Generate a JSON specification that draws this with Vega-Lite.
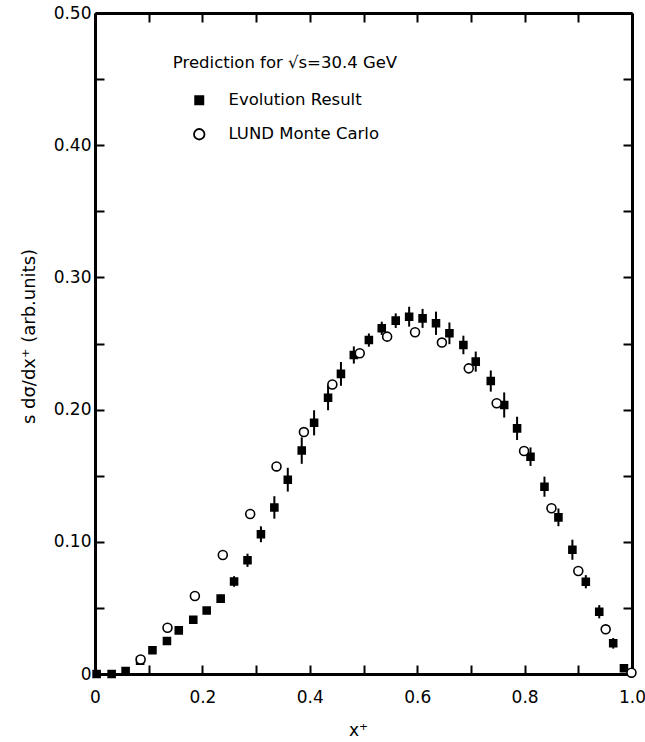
{
  "$schema": "https://vega.github.io/schema/vega-lite/v6.json",
  "width": 537,
  "height": 661,
  "autosize": {"type": "none"},
  "padding": {"left": 95, "top": 13, "right": 13, "bottom": 68},
  "background": "white",
  "config": {
    "view": {"stroke": null},
    "font": "DejaVu Sans",
    "axis": {
      "grid": false,
      "domainColor": "black",
      "domainWidth": 3,
      "tickColor": "black",
      "tickWidth": 2,
      "tickSize": -9,
      "labelColor": "black",
      "labelFont": "DejaVu Sans",
      "labelFontSize": 17,
      "labelFlush": false,
      "labelOverlap": false,
      "titleColor": "black",
      "titleFont": "DejaVu Sans",
      "titleFontWeight": "normal",
      "titleFontSize": 17
    },
    "legend": {
      "labelFont": "DejaVu Sans",
      "labelFontSize": 16.5,
      "labelColor": "black",
      "symbolSize": 110,
      "symbolStrokeWidth": 1.8
    }
  },
  "data": {
    "values": [
      {"series": "Evolution Result", "x": 0.003, "y": 0.0, "lo": 0.0, "hi": 0.0},
      {"series": "Evolution Result", "x": 0.031, "y": 0.0, "lo": 0.0, "hi": 0.0},
      {"series": "Evolution Result", "x": 0.057, "y": 0.0023, "lo": 0.0023, "hi": 0.0023},
      {"series": "Evolution Result", "x": 0.084, "y": 0.010, "lo": 0.010, "hi": 0.010},
      {"series": "Evolution Result", "x": 0.107, "y": 0.018, "lo": 0.018, "hi": 0.018},
      {"series": "Evolution Result", "x": 0.134, "y": 0.025, "lo": 0.024, "hi": 0.026},
      {"series": "Evolution Result", "x": 0.156, "y": 0.033, "lo": 0.032, "hi": 0.034},
      {"series": "Evolution Result", "x": 0.183, "y": 0.041, "lo": 0.039, "hi": 0.043},
      {"series": "Evolution Result", "x": 0.208, "y": 0.048, "lo": 0.046, "hi": 0.050},
      {"series": "Evolution Result", "x": 0.234, "y": 0.057, "lo": 0.054, "hi": 0.060},
      {"series": "Evolution Result", "x": 0.259, "y": 0.070, "lo": 0.066, "hi": 0.074},
      {"series": "Evolution Result", "x": 0.284, "y": 0.086, "lo": 0.081, "hi": 0.091},
      {"series": "Evolution Result", "x": 0.309, "y": 0.1057, "lo": 0.0997, "hi": 0.1117},
      {"series": "Evolution Result", "x": 0.334, "y": 0.126, "lo": 0.1175, "hi": 0.1345},
      {"series": "Evolution Result", "x": 0.359, "y": 0.147, "lo": 0.138, "hi": 0.156},
      {"series": "Evolution Result", "x": 0.385, "y": 0.169, "lo": 0.159, "hi": 0.179},
      {"series": "Evolution Result", "x": 0.408, "y": 0.190, "lo": 0.1805, "hi": 0.1995},
      {"series": "Evolution Result", "x": 0.434, "y": 0.209, "lo": 0.1995, "hi": 0.2185},
      {"series": "Evolution Result", "x": 0.458, "y": 0.227, "lo": 0.218, "hi": 0.236},
      {"series": "Evolution Result", "x": 0.482, "y": 0.2413, "lo": 0.2348, "hi": 0.2478},
      {"series": "Evolution Result", "x": 0.510, "y": 0.2526, "lo": 0.2476, "hi": 0.2576},
      {"series": "Evolution Result", "x": 0.534, "y": 0.2615, "lo": 0.2565, "hi": 0.2665},
      {"series": "Evolution Result", "x": 0.560, "y": 0.2673, "lo": 0.2618, "hi": 0.2728},
      {"series": "Evolution Result", "x": 0.585, "y": 0.2703, "lo": 0.2628, "hi": 0.2778},
      {"series": "Evolution Result", "x": 0.610, "y": 0.2690, "lo": 0.2618, "hi": 0.2762},
      {"series": "Evolution Result", "x": 0.635, "y": 0.2653, "lo": 0.2565, "hi": 0.2741},
      {"series": "Evolution Result", "x": 0.660, "y": 0.2577, "lo": 0.2495, "hi": 0.2659},
      {"series": "Evolution Result", "x": 0.686, "y": 0.2489, "lo": 0.2419, "hi": 0.2559},
      {"series": "Evolution Result", "x": 0.709, "y": 0.2363, "lo": 0.2287, "hi": 0.2439},
      {"series": "Evolution Result", "x": 0.737, "y": 0.2216, "lo": 0.2136, "hi": 0.2296},
      {"series": "Evolution Result", "x": 0.762, "y": 0.2035, "lo": 0.194, "hi": 0.213},
      {"series": "Evolution Result", "x": 0.786, "y": 0.1858, "lo": 0.177, "hi": 0.1946},
      {"series": "Evolution Result", "x": 0.811, "y": 0.1644, "lo": 0.1574, "hi": 0.1714},
      {"series": "Evolution Result", "x": 0.837, "y": 0.1417, "lo": 0.1341, "hi": 0.1493},
      {"series": "Evolution Result", "x": 0.863, "y": 0.1185, "lo": 0.1118, "hi": 0.1252},
      {"series": "Evolution Result", "x": 0.889, "y": 0.094, "lo": 0.0864, "hi": 0.1016},
      {"series": "Evolution Result", "x": 0.914, "y": 0.0698, "lo": 0.0648, "hi": 0.0748},
      {"series": "Evolution Result", "x": 0.939, "y": 0.0471, "lo": 0.0421, "hi": 0.0521},
      {"series": "Evolution Result", "x": 0.965, "y": 0.0232, "lo": 0.0192, "hi": 0.0272},
      {"series": "Evolution Result", "x": 0.985, "y": 0.0043, "lo": 0.0043, "hi": 0.0043},
      {"series": "LUND Monte Carlo", "x": 0.085, "y": 0.011},
      {"series": "LUND Monte Carlo", "x": 0.135, "y": 0.035},
      {"series": "LUND Monte Carlo", "x": 0.186, "y": 0.059},
      {"series": "LUND Monte Carlo", "x": 0.238, "y": 0.090},
      {"series": "LUND Monte Carlo", "x": 0.289, "y": 0.121},
      {"series": "LUND Monte Carlo", "x": 0.338, "y": 0.157},
      {"series": "LUND Monte Carlo", "x": 0.389, "y": 0.183},
      {"series": "LUND Monte Carlo", "x": 0.442, "y": 0.219},
      {"series": "LUND Monte Carlo", "x": 0.493, "y": 0.2426},
      {"series": "LUND Monte Carlo", "x": 0.544, "y": 0.2552},
      {"series": "LUND Monte Carlo", "x": 0.596, "y": 0.2585},
      {"series": "LUND Monte Carlo", "x": 0.646, "y": 0.2507},
      {"series": "LUND Monte Carlo", "x": 0.696, "y": 0.2312},
      {"series": "LUND Monte Carlo", "x": 0.748, "y": 0.2048},
      {"series": "LUND Monte Carlo", "x": 0.799, "y": 0.1687},
      {"series": "LUND Monte Carlo", "x": 0.850, "y": 0.1254},
      {"series": "LUND Monte Carlo", "x": 0.900, "y": 0.0779},
      {"series": "LUND Monte Carlo", "x": 0.951, "y": 0.0338},
      {"series": "LUND Monte Carlo", "x": 0.999, "y": 0.001}
    ]
  },
  "layer": [
    {
      "transform": [{"filter": "datum.series == 'Evolution Result'"}],
      "mark": {"type": "rule", "strokeWidth": 2, "color": "black"},
      "encoding": {
        "x": {
          "field": "x", "type": "quantitative",
          "scale": {"domain": [0, 1], "nice": false, "zero": false},
          "axis": {
            "orient": "bottom",
            "values": [0, 0.1, 0.2, 0.3, 0.4, 0.5, 0.6, 0.7, 0.8, 0.9, 1.0],
            "labelExpr": "datum.value == 0 ? '0' : (round(datum.value * 10) % 2 == 0 ? format(datum.value, '.1f') : '')",
            "labelPadding": 24,
            "title": "x⁺",
            "titleX": 263,
            "titleY": 56,
            "titleBaseline": "middle"
          }
        },
        "y": {
          "field": "lo", "type": "quantitative",
          "scale": {"domain": [0, 0.5], "nice": false, "zero": true},
          "axis": {
            "orient": "left",
            "values": [0, 0.05, 0.1, 0.15, 0.2, 0.25, 0.3, 0.35, 0.4, 0.45, 0.5],
            "labelExpr": "datum.value == 0 ? '0' : (round(datum.value * 100) % 10 == 0 ? format(datum.value, '.2f') : '')",
            "labelPadding": 13,
            "title": "s  dσ/dx⁺ (arb.units)",
            "titleFontSize": 18,
            "titleX": -66,
            "titleY": 323,
            "titleAngle": -90,
            "titleAlign": "center",
            "titleBaseline": "middle"
          }
        },
        "y2": {"field": "hi"}
      }
    },
    {
      "mark": {"type": "point", "strokeWidth": 1.6, "opacity": 1, "size": 80},
      "encoding": {
        "x": {
          "field": "x", "type": "quantitative",
          "axis": {"orient": "top", "values": [0, 0.1, 0.2, 0.3, 0.4, 0.5, 0.6, 0.7, 0.8, 0.9, 1.0], "labels": false, "title": null}
        },
        "y": {
          "field": "y", "type": "quantitative",
          "axis": {"orient": "right", "values": [0, 0.05, 0.1, 0.15, 0.2, 0.25, 0.3, 0.35, 0.4, 0.45, 0.5], "labels": false, "title": null}
        },
        "shape": {
          "field": "series", "type": "nominal",
          "scale": {"domain": ["Evolution Result", "LUND Monte Carlo"], "range": ["M-0.78,-0.78H0.78V0.78H-0.78Z", "circle"]},
          "legend": {"title": null, "orient": "none", "legendX": 96, "legendY": 79, "labelOffset": 21, "rowPadding": 16, "padding": 0}
        },
        "fill": {
          "field": "series", "type": "nominal",
          "scale": {"domain": ["Evolution Result", "LUND Monte Carlo"], "range": ["black", "white"]},
          "legend": {"title": null, "orient": "none", "legendX": 96, "legendY": 79, "labelOffset": 21, "rowPadding": 16, "padding": 0}
        },
        "stroke": {
          "field": "series", "type": "nominal",
          "scale": {"domain": ["Evolution Result", "LUND Monte Carlo"], "range": ["black", "black"]},
          "legend": {"title": null, "orient": "none", "legendX": 96, "legendY": 79, "labelOffset": 21, "rowPadding": 16, "padding": 0}
        }
      }
    },
    {
      "data": {"values": [{}]},
      "mark": {"type": "text", "align": "left", "baseline": "middle", "fontSize": 16.5, "font": "DejaVu Sans", "color": "black", "text": "Prediction for √s=30.4 GeV"},
      "encoding": {
        "x": {"datum": 0.145, "type": "quantitative", "axis": null},
        "y": {"datum": 0.462, "type": "quantitative", "axis": null}
      }
    }
  ]
}
